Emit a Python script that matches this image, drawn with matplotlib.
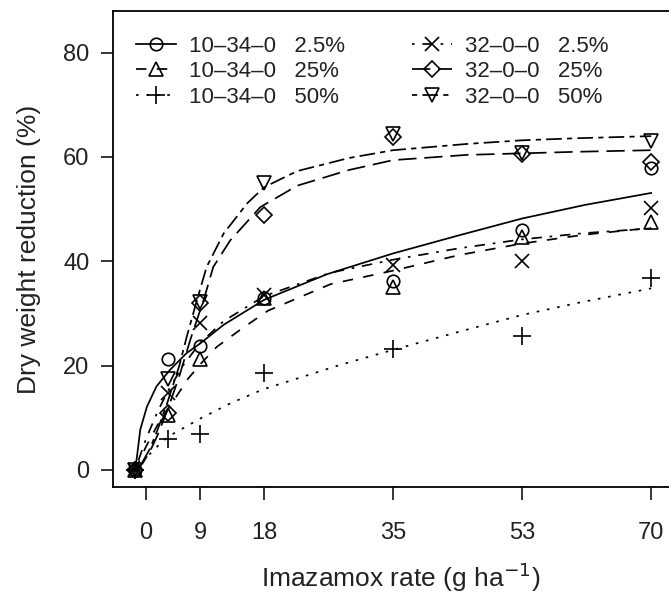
import matplotlib
matplotlib.use("Agg")
import matplotlib.pyplot as plt

plt.rcParams['font.family'] = ['Liberation Sans', 'DejaVu Sans']
plt.rcParams['text.color'] = '#222222'
plt.rcParams['axes.labelcolor'] = '#222222'
plt.rcParams['xtick.labelcolor'] = '#222222'
plt.rcParams['ytick.labelcolor'] = '#222222'

# doses (g ha-1) and observed dry weight reduction (%)
dose = [0, 4.4, 8.8, 17.5, 35, 52.5, 70]
obs_10_34_0_2_5 = [0, 21.2, 23.7, 33.0, 36.3, 46.0, 57.9]
obs_10_34_0_25 = [0, 10.5, 21.3, 33.0, 35.0, 44.6, 47.5]
obs_10_34_0_50 = [0, 5.9, 6.9, 18.5, 23.1, 25.7, 36.8]
obs_32_0_0_2_5 = [0, 14.7, 28.1, 33.5, 39.3, 40.0, 50.3]
obs_32_0_0_25 = [0, 10.9, 32.0, 48.8, 63.8, 60.6, 59.1]
obs_32_0_0_50 = [0, 17.4, 32.2, 55.0, 64.5, 60.8, 63.0]

# fitted curves
fx_1 = [0, 0.25, 0.7, 1.6, 2.9, 4.75, 7, 8.8, 12, 17.5, 26, 35, 44, 52.5, 61, 70]
fy_1 = [0, 2.5, 7.7, 12.1, 16, 19.2, 22.4, 24.2, 27.8, 32.6, 37.5, 41.5, 45, 48.2, 50.8, 53.1]
fx_2 = [0, 0.5, 1.5, 3, 4.4, 7.2, 9, 11.1, 14.2, 18, 26.5, 35, 44, 52.5, 61, 70]
fy_2 = [0, 1.5, 4.5, 8.5, 11.5, 17.5, 20.5, 23.6, 26.8, 30.5, 35.6, 38.2, 41.2, 43.4, 45.1, 46.4]
fx_3 = [0, 1, 2.5, 4.4, 8.8, 13, 17.5, 28, 36, 44, 52.5, 60, 70]
fy_3 = [0, 1.5, 3.8, 6.3, 9.8, 12.8, 15.5, 20.2, 23.4, 26.5, 29.7, 32, 34.8]
fx_4 = [0, 0.5, 1.5, 3, 4.4, 6.5, 8.8, 12, 17.5, 26.5, 35, 44, 52.5, 61, 70]
fy_4 = [0, 2, 6, 11, 15, 20, 24.3, 28.5, 33.3, 37.8, 40.3, 42.5, 44.2, 45.4, 46.3]
fx_5 = [0, 1, 2, 3, 4.4, 6, 7.5, 9.3, 10.6, 12.9, 17, 22, 29, 35, 45, 52.5, 60, 70]
fy_5 = [0, 1.2, 3.5, 6.5, 11.5, 18, 25, 32.6, 38.9, 44, 50.4, 54.5, 57.5, 59.4, 60.4, 60.7, 61, 61.3]
fx_6 = [0, 1, 2, 3, 4.4, 6, 7, 8.4, 9.7, 12, 15.2, 17.5, 22, 29, 35, 45, 52.5, 60, 70]
fy_6 = [0, 1.5, 4, 7.5, 13, 20, 25.5, 32.6, 38.9, 45.3, 51.1, 54.2, 57.3, 59.8, 61.3, 62.5, 63.2, 63.6, 64.0]

labels = ['10\u201334\u20130   2.5%', '10\u201334\u20130   25%', '10\u201334\u20130   50%',
          '32\u20130\u20130   2.5%', '32\u20130\u20130   25%', '32\u20130\u20130   50%']
xtick_pos = [1.5, 8.8, 17.5, 35, 52.5, 70]
xtick_labels = ['0', '9', '18', '35', '53', '70']
yticks = [0, 20, 40, 60, 80]

obs = [obs_10_34_0_2_5, obs_10_34_0_25, obs_10_34_0_50,
       obs_32_0_0_2_5, obs_32_0_0_25, obs_32_0_0_50]
fits = [(fx_1, fy_1), (fx_2, fy_2), (fx_3, fy_3), (fx_4, fy_4), (fx_5, fy_5), (fx_6, fy_6)]
markers = ['o', '^', '+', 'x', 'D', 'v']
msizes = [9, 10, 12.5, 10, 8.5, 10]
styles = ['-', (0, (6, 6)), (0, (1.5, 4.5)), (0, (1.5, 4.5, 6, 4.5)),
          (0, (10.5, 4.5)), (0, (3, 3, 9, 3))]

fig = plt.figure(figsize=(6.69, 5.97), dpi=100)
ax = fig.add_axes([113 / 669, 1 - 487 / 597, (688 - 113) / 669, (487 - 11) / 597])

for i in range(6):
    fx, fy = fits[i]
    ax.plot(fx, fy, color='black', lw=1.25, linestyle=styles[i])
    ax.plot(dose, obs[i], linestyle='none', marker=markers[i], ms=msizes[i],
            mfc='none', mec='black', mew=1.2)

# legend handles: line + marker
handles = []
for i in range(6):
    h, = ax.plot([], [], color='black', lw=1.25, linestyle=styles[i], marker=markers[i],
                 ms=msizes[i], mfc='none', mec='black', mew=1.2)
    handles.append(h)
ax.legend(handles, labels, ncol=2, frameon=False, loc='upper left',
          bbox_to_anchor=(0.005, 0.99), fontsize=16, handlelength=1.8,
          handletextpad=0.6, columnspacing=3.0, labelspacing=0.2)

ax.set_xlim(-3, 75)
ax.set_ylim(-3.3, 88)
ax.set_xticks(xtick_pos)
ax.set_xticklabels(xtick_labels)
ax.set_yticks(yticks)
ax.tick_params(direction='out', length=9, width=1.1, labelsize=17, pad=16)
ax.tick_params(axis='y', pad=8)
for s in ax.spines.values():
    s.set_linewidth(1.3)
ax.set_xlabel('Imazamox rate (g ha$^{\u22121}$)', fontsize=19, labelpad=12)
ax.set_ylabel('Dry weight reduction (%)', fontsize=19, labelpad=16)

fig.savefig('out.png', dpi=100)
